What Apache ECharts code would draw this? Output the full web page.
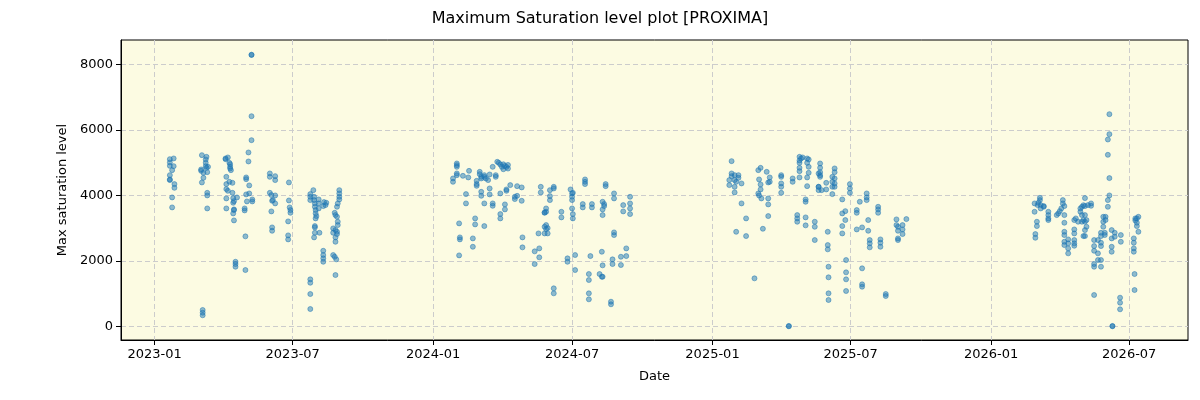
<!DOCTYPE html>
<html lang="en">
<head>
  <meta charset="UTF-8">
  <title>Maximum Saturation level plot [PROXIMA]</title>
  <style>
    html, body { margin: 0; padding: 0; background: #fff; }
    #chart { width: 1200px; height: 400px; }
  </style>
</head>
<body>
  <div id="chart"></div>
  <script src="https://cdn.jsdelivr.net/npm/echarts@6/dist/echarts.min.js"></script>
  <script>
    // observation campaigns: one date per column, several levels per date
    var dates2023 = ['2023-01-21', '2023-01-24', '2023-01-26', '2023-01-27', '2023-03-03', '2023-03-04', '2023-03-05', '2023-03-06',
      '2023-03-09', '2023-03-10', '2023-03-11', '2023-03-12', '2023-04-04', '2023-04-05', '2023-04-07', '2023-04-09',
      '2023-04-10', '2023-04-11', '2023-04-13', '2023-04-14', '2023-04-15', '2023-04-17', '2023-04-19', '2023-04-29',
      '2023-04-30', '2023-05-01', '2023-05-02', '2023-05-04', '2023-05-05', '2023-05-08', '2023-05-09', '2023-06-01',
      '2023-06-03', '2023-06-04', '2023-06-05', '2023-06-08', '2023-06-25', '2023-06-26', '2023-06-27', '2023-06-28',
      '2023-07-24', '2023-07-28', '2023-07-29', '2023-07-30', '2023-07-31', '2023-08-01', '2023-08-04', '2023-08-05',
      '2023-08-10', '2023-08-11', '2023-08-13', '2023-08-14', '2023-08-23', '2023-08-25', '2023-08-26', '2023-08-27',
      '2023-08-28', '2023-08-29', '2023-08-31']
    var levels2023 = [[5108, 5007, 4903, 4619, 4488, 4467], [4772, 3938, 3633], [5129, 4894], [4345, 4231], [4793, 4750],
      [5230, 4396], [498, 415, 336], [4690, 4537], [5098, 4995, 4894], [5178, 4842], [4079, 3999, 3602, 4711], [4873],
      [5129, 5108], [4567, 4345, 4192, 3908, 3602], [5160, 4140], [4995, 4415], [4955, 4873, 4824], [4772], [4384, 4079],
      [3917, 3774, 3450], [3825, 3551, 3236, 3572], [1972, 1902, 1820], [3938], [3602, 3541], [2748, 1719],
      [4549, 4497, 4030], [3816], [5312, 5037], [4305, 4060], [8292, 8300, 6420, 5688], [3877, 3816], [4079, 4671, 4567],
      [4009, 3511], [3835, 3022, 2919], [3856], [4589, 4467, 3999, 3755], [3206, 2778, 2656], [4396, 3846], [3633],
      [3551, 3468], [1435, 1331, 986, 528, 4039, 3957, 3856], [4161], [3957, 3856, 2717], [3755, 3652, 3062, 3022, 2858],
      [3551, 3450, 3297], [3368], [3877, 3755, 3602], [2858], [3673, 2308, 2177, 2076, 1972], [3795], [3703], [3774],
      [2992, 2858, 2177], [3468, 2125], [3398, 2717, 2583, 1566, 2940], [2045], [3346, 3652, 2888, 2818],
      [3755, 3195, 3093], [4161, 4060, 3957, 3877]]

    var dates2024 = ['2024-01-27', '2024-02-01', '2024-02-04', '2024-02-05', '2024-02-09', '2024-02-13', '2024-02-16', '2024-02-17',
      '2024-02-22', '2024-02-25', '2024-02-27', '2024-03-02', '2024-03-04', '2024-03-08', '2024-03-10', '2024-03-13',
      '2024-03-15', '2024-03-19', '2024-03-23', '2024-03-25', '2024-03-27', '2024-03-29', '2024-03-31', '2024-04-02',
      '2024-04-04', '2024-04-06', '2024-04-08', '2024-04-11', '2024-04-17', '2024-04-20', '2024-04-26', '2024-04-27',
      '2024-05-13', '2024-05-18', '2024-05-19', '2024-05-21', '2024-05-26', '2024-05-28', '2024-05-30', '2024-06-02',
      '2024-06-07', '2024-06-17', '2024-06-25', '2024-06-29', '2024-07-01', '2024-07-02', '2024-07-05', '2024-07-15',
      '2024-07-18', '2024-07-23', '2024-07-25', '2024-07-27', '2024-08-06', '2024-08-09', '2024-08-10', '2024-08-12',
      '2024-08-14', '2024-08-21', '2024-08-23', '2024-08-25', '2024-09-03', '2024-09-06', '2024-09-10', '2024-09-15']
    var levels2024 = [[4518, 4415], [4976, 4925, 4873, 4671, 4619], [3145, 2167], [2717, 2656], [4598], [4039, 3755], [4549],
      [4750], [2686, 2430], [3297, 3114], [4445, 4345, 4292], [4720, 4650], [4567, 4518, 4109, 3987], [4567, 3755, 3062, 4619],
      [4518], [4467], [4213, 4640, 4030], [4873, 3755, 3682], [4619, 4567], [5026], [4995], [4945, 4060, 3429, 3297], [4873],
      [4950, 4800], [4900, 3725, 3572], [4870, 4182, 4140], [4820, 4930], [4314], [3957, 3887], [3987, 4283], [3835, 4244],
      [2717, 2412], [2290, 1902], [2838], [2381, 2107], [4262, 4091], [3480, 3041, 2838, 3468], [3499, 3602, 3093, 2970],
      [2838, 3000], [3978, 3856, 4161], [4262, 4213, 1160, 1007], [3499, 3328], [2076, 1972], [4182],
      [4060, 3957, 3856, 3602], [4079, 3429, 3297], [2177, 1719], [3734, 3633], [4488, 4415, 4345], [1597, 1414, 1007, 824],
      [2146], [3734, 3633], [1597], [1514, 2278], [1862, 3805, 3572, 3398, 1514], [3734, 3673], [4345, 4283], [751, 672],
      [2045, 1902], [4060, 3908, 2870, 2788], [2125, 1872], [3703, 3511], [2381, 2146], [3957, 3755, 3602, 3429]]

    var dates2025 = ['2025-01-23', '2025-01-26', '2025-01-30', '2025-02-01', '2025-02-04', '2025-02-08', '2025-02-14', '2025-02-25',
      '2025-03-02', '2025-03-03', '2025-03-05', '2025-03-06', '2025-03-08', '2025-03-13', '2025-03-15', '2025-03-17',
      '2025-04-01', '2025-04-11', '2025-04-16', '2025-04-22', '2025-04-25', '2025-04-27', '2025-04-29', '2025-05-03',
      '2025-05-05', '2025-05-07', '2025-05-15', '2025-05-20', '2025-05-22', '2025-05-24', '2025-05-30', '2025-06-01',
      '2025-06-02', '2025-06-07', '2025-06-10', '2025-06-20', '2025-06-24', '2025-06-25', '2025-06-30', '2025-07-09',
      '2025-07-13', '2025-07-16', '2025-07-22', '2025-07-24', '2025-07-26', '2025-08-06', '2025-08-09', '2025-08-16',
      '2025-08-30', '2025-09-01', '2025-09-07', '2025-09-12']
    var levels2025 = [[4467, 4314], [4589, 4671, 5047], [4619, 4467, 4262, 4091], [4415, 2888], [4619, 4537], [4366, 3755],
      [3297, 2757], [1465], [4772, 4060], [4488, 3999], [4842, 4335, 4182], [3908], [2980], [4720], [4396, 3908, 3725, 3368],
      [4549, 4415], [4619, 4567, 4366, 4262, 4079], [0, 10], [4518, 4415], [3398, 3297, 3195],
      [5178, 5067, 4995, 4842, 4741, 4549], [5129], [5160], [3877, 3805, 3328, 3084], [5129, 4995, 4549, 4283],
      [5098, 4873, 4690], [3195, 3041, 2635], [4671, 4262, 4161, 4262], [4976, 4842, 4619, 4711, 4567], [4161], [4384, 4182],
      [2888, 2482, 2351], [1820, 1496, 1007, 803], [4567, 4415, 4262, 4039], [4824, 4711, 4518, 4366, 4262],
      [3877, 3062, 2838, 3450], [3519, 3246], [2024, 1649, 1435, 1078], [4345, 4213, 4079], [3551, 3468, 2960], [3805],
      [3022, 1771, 1282, 1209], [4060, 3938, 3856], [3246, 2919], [2635, 2534, 2412], [3652, 3572, 3468], [2656, 2553, 2430],
      [986, 925], [3267, 3093], [3041, 2919, 2635, 2686], [3093, 2960, 2818], [3276]]

    var dates2026 = ['2026-02-27', '2026-02-28', '2026-03-02', '2026-03-03', '2026-03-04', '2026-03-06', '2026-03-07', '2026-03-11',
      '2026-03-17', '2026-03-28', '2026-03-30', '2026-04-01', '2026-04-03', '2026-04-05', '2026-04-07', '2026-04-12',
      '2026-04-20', '2026-04-22', '2026-04-25', '2026-04-28', '2026-04-30', '2026-05-02', '2026-05-04', '2026-05-06',
      '2026-05-08', '2026-05-12', '2026-05-16', '2026-05-21', '2026-05-25', '2026-05-28', '2026-05-30', '2026-05-31',
      '2026-06-03', '2026-06-05', '2026-06-08', '2026-06-09', '2026-06-12', '2026-06-19', '2026-06-20', '2026-07-07',
      '2026-07-08', '2026-07-09', '2026-07-11', '2026-07-13']
    var levels2026 = [[3755, 3499], [2818, 2705], [3195, 3062], [3703], [3774], [3926, 3856], [3703, 3602], [3673, 3652],
      [3499, 3398, 3297, 3246], [3398], [3450], [3519], [3602], [3856, 3755], [3673, 3398, 3164, 2888, 2788, 2583, 2482],
      [2656, 2534, 2381, 2229], [3246, 2960, 2838, 2635, 2534, 2461], [3297], [3195], [3500, 3600], [3650, 3400, 3195],
      [3700, 3246, 2757], [3917, 3673, 3398, 3195, 2940, 2757], [3246, 3041], [3703], [3755, 3682],
      [2635, 2451, 2308, 1902, 1820, 956], [2635, 2229, 2024], [2858, 2757, 2553, 2451, 2024, 1820], [3346, 3195, 3041],
      [2858, 2788], [3346, 3246], [3652, 3856, 5708, 5240], [6482, 5871, 4528, 3999], [2940, 2686, 2430, 2278], [10, 0],
      [2858, 2736], [874, 721, 519], [2788, 2583], [2686, 2553, 2381, 2278], [1597, 1108], [3297, 3236],
      [3164, 3062, 3297], [2888, 3346]]

    var xTicks = ['2023-01-01', '2023-07-01', '2024-01-01', '2024-07-01', '2025-01-01', '2025-07-01', '2026-01-01', '2026-07-01']
    var yTicks = [0, 2000, 4000, 6000, 8000]

    function toPoints(dates, levels) {
      var res = []
      for (var i = 0; i < dates.length; i++) {
        for (var j = 0; j < levels[i].length; j++) {
          res.push([dates[i], levels[i][j]])
        }
      }
      return res
    }

    // dates -> ms (UTC), drawn on a plain value axis
    function toTime(s) {
      var p = s.split('-')
      return Date.UTC(+p[0], +p[1] - 1, +p[2])
    }

    var points = []
      .concat(toPoints(dates2023, levels2023))
      .concat(toPoints(dates2024, levels2024))
      .concat(toPoints(dates2025, levels2025))
      .concat(toPoints(dates2026, levels2026))
      .map(function (d) { return [toTime(d[0]), d[1]] })

    var xTickTimes = xTicks.map(toTime)
    var font = 'DejaVu Sans'

    var myChart = echarts.init(document.getElementById('chart'))
    var option = {
      animation: false,
      title: {
        text: 'Maximum Saturation level plot [PROXIMA]',
        left: 'center',
        top: 6,
        textStyle: { fontFamily: font, fontSize: 16, fontWeight: 'normal', color: '#000' }
      },
      grid: {
        left: 121,
        right: 12,
        top: 40,
        bottom: 60,
        show: true,
        backgroundColor: '#fcfbe2',
        borderColor: '#000',
        borderWidth: 1
      },
      xAxis: {
        type: 'value',
        min: toTime('2022-11-18'),
        max: toTime('2026-09-16'),
        name: 'Date',
        nameLocation: 'middle',
        nameGap: 30,
        nameTextStyle: { fontFamily: font, fontSize: 13, color: '#000' },
        axisLine: { show: true, onZero: false, lineStyle: { color: '#000' } },
        axisTick: { show: true, customValues: xTickTimes, length: 5, lineStyle: { color: '#000' } },
        axisLabel: {
          customValues: xTickTimes,
          fontFamily: font,
          fontSize: 13,
          color: '#000',
          margin: 8,
          formatter: function (v) {
            var d = new Date(v)
            var m = d.getUTCMonth() + 1
            return d.getUTCFullYear() + '-' + (m < 10 ? '0' + m : m)
          }
        },
        splitLine: { show: true, lineStyle: { color: '#cccccc', type: [5, 3], width: 1 } }
      },
      yAxis: {
        type: 'value',
        min: -419,
        max: 8749,
        name: 'Max saturation level',
        nameLocation: 'middle',
        nameGap: 49,
        nameTextStyle: { fontFamily: font, fontSize: 13, color: '#000' },
        axisLine: { show: true, onZero: false, lineStyle: { color: '#000' } },
        axisTick: { show: true, customValues: yTicks, length: 5, lineStyle: { color: '#000' } },
        axisLabel: {
          customValues: yTicks,
          fontFamily: font,
          fontSize: 13,
          color: '#000',
          margin: 8,
          formatter: function (v) { return String(v) }
        },
        splitLine: { show: true, lineStyle: { color: '#cccccc', type: [5, 3], width: 1 } }
      },
      series: [
        {
          name: 'Max saturation level',
          type: 'scatter',
          symbolSize: 5,
          data: points,
          itemStyle: {
            color: 'rgba(31,119,180,0.62)',
            borderColor: 'rgba(31,119,180,0.8)',
            borderWidth: 0.8
          }
        }
      ]
    }
    myChart.setOption(option)
  </script>
</body>
</html>
